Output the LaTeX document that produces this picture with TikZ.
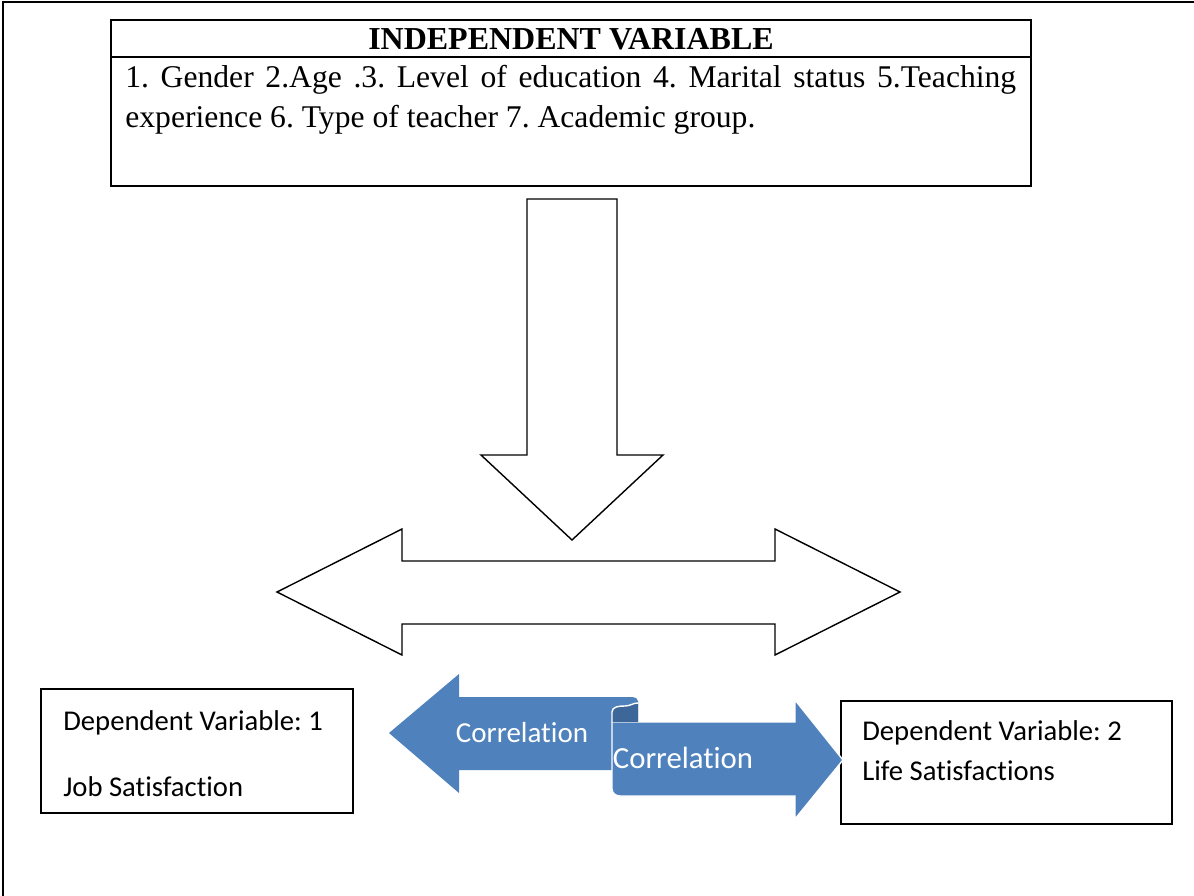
\documentclass[tikz,border=0pt]{standalone}
\usepackage{fontspec}
\setmainfont{Liberation Serif}
\newfontfamily\calfont[Ligatures=NoCommon]{Carlito}
\definecolor{corrblue}{HTML}{4F81BD}
\definecolor{curlblue}{HTML}{3D6699}
\begin{document}
\frenchspacing
\hyphenpenalty=10000\relax
\exhyphenpenalty=10000\relax
\begin{tikzpicture}[x=0.02cm,y=-0.02cm,
  frameline/.style={line width=1.1pt},
  boxline/.style={draw=black,line width=1.1pt,fill=white},
  outline arrow/.style={draw=black,line width=0.8pt,fill=white},
  blue arrow/.style={fill=corrblue,draw=white,line width=0.8pt},
  title/.style={font=\fontsize{18.2}{21}\selectfont\bfseries,inner sep=0pt},
  body/.style={font=\fontsize{18}{22.76}\selectfont,text width=17.82cm,align=justify,inner sep=0pt,anchor=north west},
  dtext/.style={font=\calfont\fontsize{16.3}{19}\selectfont,anchor=base west,inner sep=0pt},
  ctext/.style={font=\calfont\fontsize{16.5}{20}\selectfont,text=white,inner sep=0pt}]
\useasboundingbox (0,0) rectangle (1194,896);
% outer frame (top and left edges)
\draw[frameline] (3,896) -- (3,2) -- (1194,2);
% top box
\draw[boxline] (111,20) rectangle (1031,186);
\draw[line width=1.1pt] (111,57) -- (1031,57);
\node[title] (ivtitle) at (571,39) {INDEPENDENT VARIABLE};
\node[body] (ivtext) at (125,65) {1. Gender 2.Age .3. Level of education 4. Marital status 5.Teaching experience 6. Type of teacher 7. Academic group.};
% down arrow
\draw[outline arrow] (527,199) -- (617,199) -- (617,455) -- (663,455) -- (572,540) -- (481,455) -- (527,455) -- cycle;
% double arrow
\draw[outline arrow] (277,592) -- (402,529) -- (402,561) -- (775,561) -- (775,529) -- (900,592) -- (775,655) -- (775,624) -- (402,624) -- (402,655) -- cycle;
% dependent boxes
\draw[boxline] (41,689) rectangle (353,813);
\node[dtext] (dv1) at (63,730) {Dependent Variable: 1};
\node[dtext] (job) at (63,796) {Job Satisfaction};
\draw[boxline] (841,701) rectangle (1172,824);
\node[dtext] (dv2) at (862,740) {Dependent Variable: 2};
\node[dtext] (life) at (862,780) {Life Satisfactions};
% blue correlation arrows
\fill[corrblue] (389,733) -- (459,674) -- (459,697) -- (632,697) to[out=0,in=90] (638,701) -- (638,770) -- (459,770) -- (459,793) -- cycle;
\draw[blue arrow] (612,722) -- (795,722) -- (795,700) -- (843,760) -- (795,819) -- (795,796) -- (620,796) to[out=180,in=-90] (612,789) -- cycle;
\fill[curlblue] (612,722) -- (612,712) to[out=90,in=180] (625,706) to[out=0,in=180] (638,703) -- (638,722) -- cycle;
\draw[white,line width=0.8pt] (612,722) -- (612,712) to[out=90,in=180] (625,706) to[out=0,in=180] (638,703);
\node[ctext] (corr1) at (522,733) {Correlation};
\node[ctext,font=\calfont\fontsize{17.5}{20}\selectfont] (corr2) at (683,758) {Correlation};
\end{tikzpicture}
\end{document}
